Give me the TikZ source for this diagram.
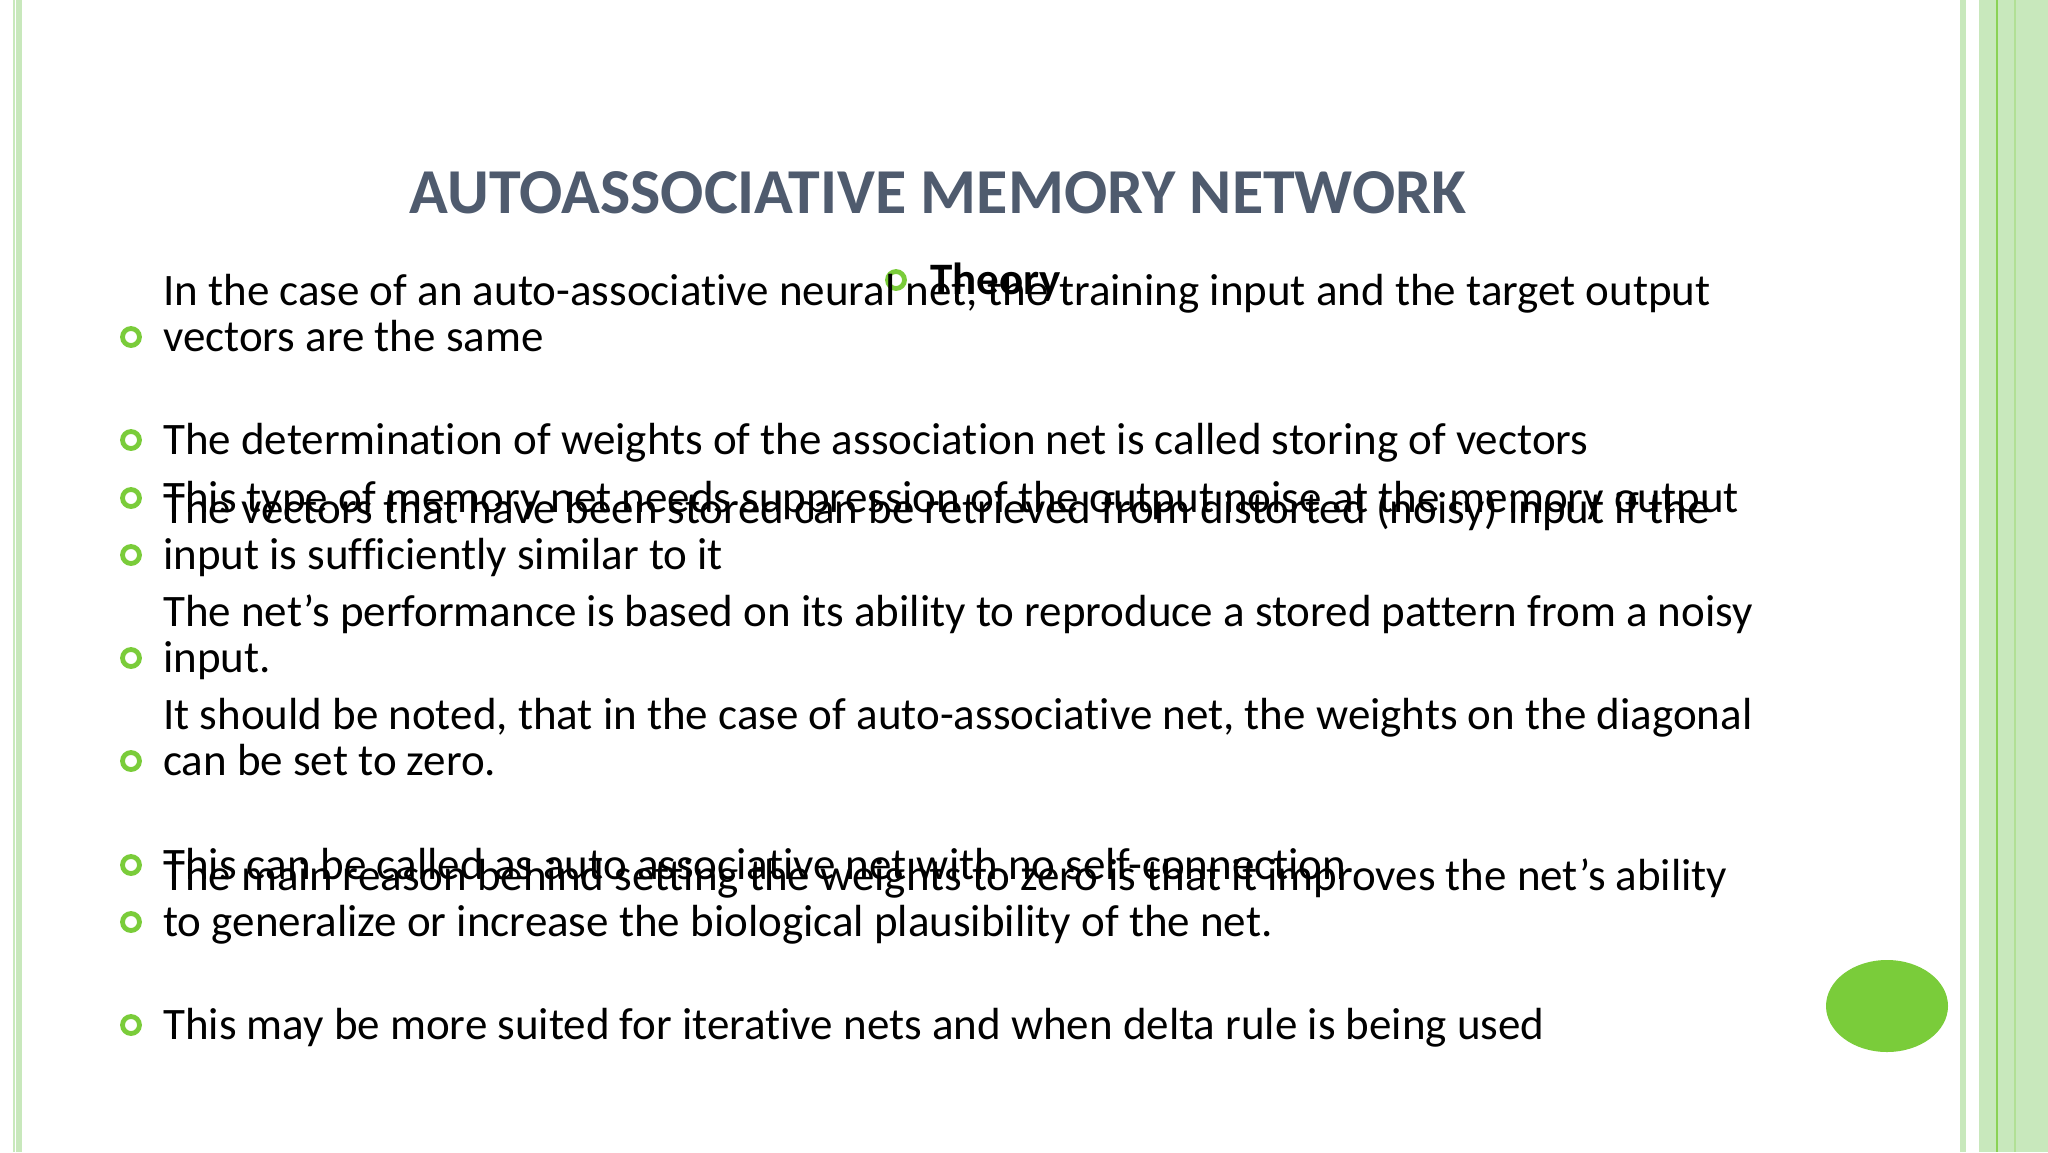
\documentclass[tikz,border=0pt]{standalone}
\usepackage{fontspec}
\usetikzlibrary{shapes.geometric}
\setmainfont[Ligatures=NoCommon]{Carlito}
\definecolor{lg}{HTML}{C8E8BC}
\definecolor{mg}{HTML}{7ACC3A}
\definecolor{tg}{HTML}{4F5B6E}
\begin{document}
\begin{tikzpicture}[x=1pt,y=-1pt,
  item/.style={anchor=base west,inner sep=0pt,align=left,font=\fontsize{45}{45.7}\selectfont},
  bul/.style={circle,draw=mg,line width=4.8pt,minimum size=17pt,inner sep=0pt}]
\useasboundingbox (0,0) rectangle (2048,1152);
\fill[white] (0,0) rectangle (2048,1152);
\fill[lg] (13,0) rectangle (15,1152);
\fill[lg] (16,0) rectangle (22,1152);
\fill[lg] (1960,0) rectangle (1966,1152);
\fill[lg] (1979,0) rectangle (2048,1152);
\fill[mg!80!lg] (1996,0) rectangle (1998,1152);
\fill[mg!30!lg] (2014,0) rectangle (2016,1152);
\node[font=\fontsize{64}{64}\selectfont\bfseries,text=tg,inner sep=0pt] (title) at (938,193) {AUTOASSOCIATIVE MEMORY NETWORK};
\node[bul] (b0) at (896,280) {};
\node[anchor=base west,inner sep=0pt,font=\fontsize{45}{45.7}\selectfont\bfseries] (t0) at (930,294) {Theory};
\foreach \n/\y/\t in {
1/337/{In the case of an auto-associative neural net, the training input and the target output\\vectors are the same},
2/440/{The determination of weights of the association net is called storing of vectors},
3/498/{This type of memory net needs suppression of the output noise at the memory output},
4/555/{The vectors that have been stored can be retrieved from distorted (noisy) input if the\\input is sufficiently similar to it},
5/658/{The net’s performance is based on its ability to reproduce a stored pattern from a noisy\\input.},
6/761/{It should be noted, that in the case of auto-associative net, the weights on the diagonal\\can be set to zero.},
7/865/{This can be called as auto associative net with no self-connection},
8/922/{The main reason behind setting the weights to zero is that it improves the net’s ability\\to generalize or increase the biological plausibility of the net.},
9/1025/{This may be more suited for iterative nets and when delta rule is being used}}
{
  \node[bul] (b\n) at (131,\y) {};
  \node[item] (i\n) at (163,\y+14) {\t};
}
\node[ellipse,fill=mg,minimum width=122pt,minimum height=92pt,inner sep=0pt] (dot) at (1887,1006) {};
\end{tikzpicture}
\end{document}
